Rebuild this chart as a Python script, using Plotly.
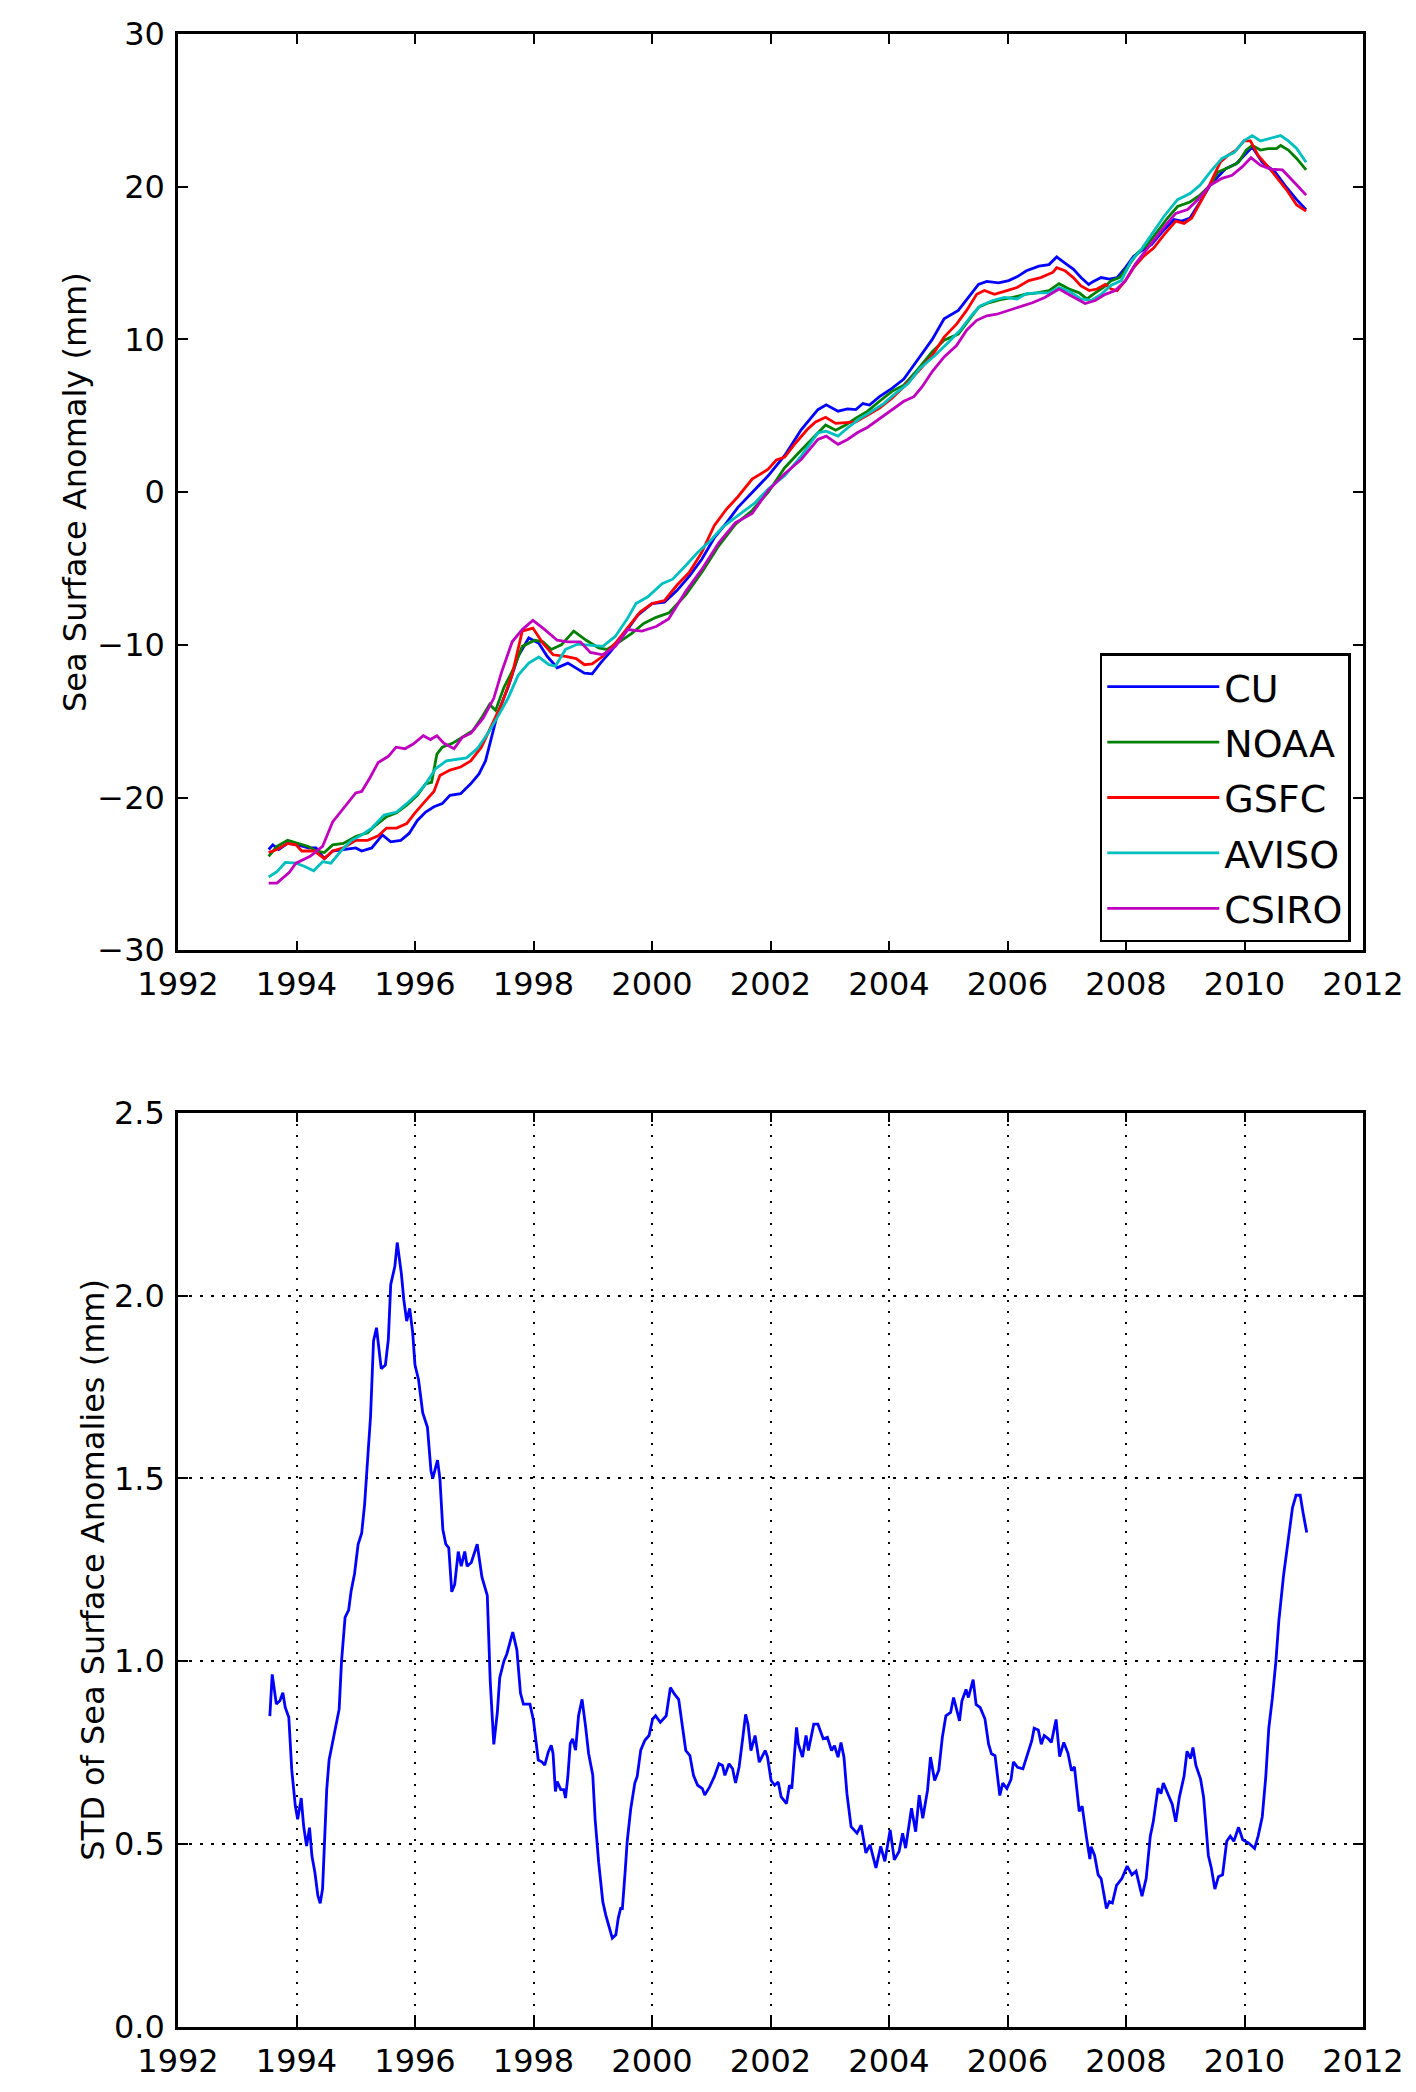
import plotly.graph_objects as go

# ---------------- data ----------------
cu_year = [1993.53, 1993.60, 1993.70, 1993.85, 1994.02, 1994.20, 1994.33, 1994.47, 1994.61, 1994.79,
           1995.00, 1995.10, 1995.27, 1995.45, 1995.59, 1995.76, 1995.90, 1996.04, 1996.18, 1996.32,
           1996.46, 1996.59, 1996.77, 1996.94, 1997.08, 1997.19, 1997.29, 1997.39, 1997.57, 1997.74,
           1997.92, 1998.09, 1998.23, 1998.40, 1998.58, 1998.72, 1998.86, 1998.99, 1999.13, 1999.31,
           1999.52, 1999.76, 2000.00, 2000.21, 2000.42, 2000.63, 2000.84, 2001.05, 2001.26, 2001.45,
           2001.69, 2001.96, 2002.24, 2002.52, 2002.80, 2002.94, 2003.14, 2003.30, 2003.44, 2003.56,
           2003.67, 2003.84, 2004.05, 2004.25, 2004.49, 2004.73, 2004.93, 2005.17, 2005.34, 2005.51,
           2005.65, 2005.85, 2006.02, 2006.16, 2006.32, 2006.53, 2006.70, 2006.83, 2006.97, 2007.11,
           2007.24, 2007.37, 2007.45, 2007.58, 2007.72, 2007.85, 2007.99, 2008.13, 2008.26, 2008.43,
           2008.60, 2008.81, 2008.94, 2009.08, 2009.25, 2009.42, 2009.55, 2009.69, 2009.86, 2009.99,
           2010.13, 2010.30, 2010.51, 2010.71, 2010.88, 2011.04]
cu_ssa = [-23.4, -23.1, -23.4, -23.0, -23.1, -23.3, -23.3, -24.0, -23.5, -23.4,
          -23.3, -23.5, -23.3, -22.45, -22.9, -22.8, -22.35, -21.5, -20.95, -20.6,
          -20.4, -19.85, -19.75, -19.1, -18.45, -17.6, -16.05, -14.55, -12.8, -10.75,
          -9.55, -9.9, -10.75, -11.5, -11.2, -11.5, -11.85, -11.9, -11.2, -10.4,
          -9.35, -8.05, -7.3, -7.2, -6.45, -5.5, -4.4, -3.0, -2.0, -1.0,
          0.0, 1.07, 2.4, 4.1, 5.4, 5.72, 5.3, 5.45, 5.4, 5.8,
          5.7, 6.25, 6.8, 7.4, 8.7, 10.0, 11.35, 11.9, 12.75, 13.6,
          13.8, 13.7, 13.85, 14.1, 14.5, 14.8, 14.9, 15.4, 15.0, 14.6,
          14.05, 13.6, 13.8, 14.05, 13.95, 14.05, 14.7, 15.45, 15.8, 16.2,
          17.0, 17.85, 17.75, 17.95, 19.0, 20.1, 20.65, 21.2, 21.5, 22.05,
          22.6, 21.6, 21.0, 19.95, 19.15, 18.5]

noaa_year = [1993.53, 1993.67, 1993.85, 1994.02, 1994.20, 1994.33, 1994.47, 1994.61, 1994.79, 1995.00,
             1995.20, 1995.34, 1995.52, 1995.69, 1995.86, 1996.04, 1996.18, 1996.28, 1996.37, 1996.46,
             1996.63, 1996.80, 1996.98, 1997.12, 1997.26, 1997.36, 1997.50, 1997.67, 1997.81, 1998.02,
             1998.16, 1998.30, 1998.47, 1998.68, 1998.89, 1999.10, 1999.24, 1999.45, 1999.66, 1999.86,
             2000.07, 2000.29, 2000.57, 2000.85, 2001.13, 2001.41, 2001.69, 2001.96, 2002.24, 2002.48,
             2002.69, 2002.93, 2003.10, 2003.27, 2003.44, 2003.64, 2003.84, 2004.05, 2004.25, 2004.49,
             2004.73, 2004.93, 2005.17, 2005.34, 2005.51, 2005.68, 2005.88, 2006.09, 2006.29, 2006.49,
             2006.70, 2006.87, 2007.04, 2007.21, 2007.34, 2007.48, 2007.62, 2007.75, 2007.89, 2008.02,
             2008.19, 2008.36, 2008.53, 2008.70, 2008.87, 2009.08, 2009.25, 2009.42, 2009.55, 2009.76,
             2009.90, 2010.03, 2010.13, 2010.27, 2010.40, 2010.54, 2010.61, 2010.74, 2010.88, 2011.04]
noaa_ssa = [-23.85, -23.2, -22.8, -23.0, -23.2, -23.5, -23.6, -23.1, -23.0, -22.55,
            -22.3, -21.8, -21.25, -21.0, -20.5, -19.85, -19.1, -19.0, -17.15, -16.7,
            -16.45, -16.05, -15.6, -14.8, -13.9, -14.3, -12.8, -11.5, -10.1, -9.7,
            -9.8, -10.3, -10.0, -9.1, -9.7, -10.2, -10.3, -9.8, -9.25, -8.6,
            -8.2, -7.9, -6.72, -5.2, -3.5, -2.1, -1.2, -0.01, 1.6, 2.6,
            3.45, 4.4, 4.05, 4.4, 4.85, 5.3, 5.95, 6.6, 7.0, 8.05,
            9.2, 9.95, 10.35, 11.25, 12.1, 12.4, 12.6, 12.75, 12.95, 13.05,
            13.2, 13.65, 13.3, 13.05, 12.65, 13.05, 13.4, 13.85, 14.05, 14.7,
            15.65, 16.2, 17.1, 17.95, 18.7, 19.0, 19.45, 20.1, 20.95, 21.3,
            21.6, 22.4, 22.7, 22.4, 22.5, 22.5, 22.7, 22.4, 21.85, 21.1]

gsfc_year = [1993.53, 1993.67, 1993.85, 1993.99, 1994.09, 1994.30, 1994.47, 1994.61, 1994.79, 1995.00,
             1995.20, 1995.38, 1995.52, 1995.69, 1995.86, 1996.00, 1996.18, 1996.32, 1996.42, 1996.59,
             1996.77, 1996.94, 1997.12, 1997.29, 1997.46, 1997.64, 1997.81, 1997.99, 1998.16, 1998.33,
             1998.54, 1998.72, 1998.86, 1998.99, 1999.17, 1999.38, 1999.59, 1999.80, 2000.00, 2000.21,
             2000.42, 2000.63, 2000.84, 2001.05, 2001.26, 2001.45, 2001.69, 2001.96, 2002.10, 2002.24,
             2002.42, 2002.62, 2002.76, 2002.93, 2003.10, 2003.27, 2003.44, 2003.64, 2003.84, 2004.05,
             2004.25, 2004.49, 2004.73, 2004.93, 2005.14, 2005.31, 2005.48, 2005.61, 2005.78, 2005.99,
             2006.16, 2006.36, 2006.56, 2006.77, 2006.83, 2006.97, 2007.11, 2007.24, 2007.38, 2007.51,
             2007.65, 2007.75, 2007.85, 2007.99, 2008.13, 2008.30, 2008.47, 2008.64, 2008.84, 2008.98,
             2009.11, 2009.28, 2009.42, 2009.59, 2009.72, 2009.86, 2009.99, 2010.10, 2010.23, 2010.40,
             2010.57, 2010.71, 2010.88, 2011.04]
gsfc_ssa = [-23.6, -23.4, -23.0, -23.1, -23.5, -23.5, -24.0, -23.5, -23.3, -22.8,
            -22.8, -22.5, -22.0, -22.0, -21.7, -21.0, -20.2, -19.6, -18.55, -18.2,
            -18.0, -17.6, -16.7, -15.3, -13.9, -11.95, -9.1, -8.9, -9.9, -10.65,
            -10.75, -10.9, -11.3, -11.25, -10.75, -9.9, -8.9, -7.85, -7.3, -7.1,
            -6.1, -5.25, -3.95, -2.2, -1.1, -0.3, 0.85, 1.5, 2.1, 2.3,
            3.2, 4.1, 4.6, 4.9, 4.5, 4.55, 4.6, 5.05, 5.5, 6.15,
            6.9, 7.9, 8.95, 10.15, 11.0, 11.9, 12.95, 13.2, 12.95, 13.2,
            13.4, 13.85, 14.05, 14.4, 14.7, 14.5, 14.05, 13.5, 13.2, 13.3,
            13.6, 13.3, 13.2, 13.85, 14.7, 15.45, 16.0, 16.85, 17.75, 17.6,
            17.95, 19.15, 20.2, 21.6, 22.05, 22.4, 23.0, 23.0, 22.05, 21.3,
            20.5, 19.8, 18.8, 18.4]

aviso_year = [1993.53, 1993.67, 1993.81, 1993.99, 1994.13, 1994.29, 1994.44, 1994.58, 1994.75, 1994.93,
              1995.10, 1995.27, 1995.48, 1995.69, 1995.86, 1996.04, 1996.18, 1996.35, 1996.53, 1996.70,
              1996.87, 1997.05, 1997.22, 1997.39, 1997.57, 1997.74, 1997.92, 1998.09, 1998.26, 1998.37,
              1998.54, 1998.75, 1998.96, 1999.17, 1999.38, 1999.59, 1999.73, 1999.93, 2000.17, 2000.35,
              2000.57, 2000.77, 2000.98, 2001.19, 2001.46, 2001.74, 2001.96, 2002.24, 2002.52, 2002.80,
              2002.94, 2003.14, 2003.30, 2003.50, 2003.71, 2003.91, 2004.12, 2004.32, 2004.52, 2004.76,
              2005.00, 2005.20, 2005.41, 2005.54, 2005.75, 2005.95, 2006.16, 2006.32, 2006.53, 2006.70,
              2006.87, 2007.04, 2007.24, 2007.41, 2007.58, 2007.75, 2007.92, 2008.09, 2008.26, 2008.47,
              2008.64, 2008.87, 2009.08, 2009.25, 2009.42, 2009.62, 2009.83, 2009.99, 2010.13, 2010.27,
              2010.44, 2010.61, 2010.74, 2010.88, 2011.04]
aviso_ssa = [-25.2, -24.85, -24.25, -24.3, -24.5, -24.8, -24.2, -24.3, -23.5, -22.8,
             -22.45, -22.0, -21.15, -20.95, -20.4, -19.75, -19.1, -18.1, -17.6, -17.5,
             -17.4, -16.8, -15.85, -14.75, -13.5, -12.0, -11.2, -10.8, -11.3, -11.4,
             -10.3, -9.95, -10.05, -10.1, -9.45, -8.25, -7.3, -6.85, -6.0, -5.7,
             -4.8, -3.95, -3.2, -2.3, -1.5, -0.7, 0.21, 1.07, 2.37, 3.88,
             3.99, 3.67, 4.2, 4.8, 5.3, 5.8, 6.5, 7.1, 8.1, 8.9,
             9.8, 10.6, 11.65, 12.2, 12.55, 12.75, 12.65, 13.0, 13.05, 13.05,
             13.4, 13.15, 12.65, 12.55, 12.95, 13.55, 13.85, 15.15, 15.9, 17.1,
             18.05, 19.15, 19.55, 20.1, 20.95, 21.85, 22.25, 23.0, 23.35, 23.0,
             23.2, 23.35, 23.0, 22.5, 21.6]

csiro_year = [1993.53, 1993.67, 1993.88, 1993.99, 1994.23, 1994.44, 1994.61, 1994.82, 1995.00, 1995.10,
              1995.24, 1995.38, 1995.55, 1995.68, 1995.83, 1995.97, 1996.14, 1996.26, 1996.37, 1996.49,
              1996.66, 1996.80, 1996.94, 1997.15, 1997.33, 1997.46, 1997.64, 1997.81, 1997.99, 1998.19,
              1998.40, 1998.58, 1998.79, 1998.96, 1999.17, 1999.38, 1999.59, 1999.83, 2000.07, 2000.28,
              2000.57, 2000.85, 2001.13, 2001.41, 2001.69, 2001.96, 2002.24, 2002.52, 2002.80, 2002.94,
              2003.14, 2003.30, 2003.47, 2003.64, 2003.84, 2004.05, 2004.25, 2004.42, 2004.56, 2004.73,
              2004.93, 2005.14, 2005.31, 2005.48, 2005.65, 2005.82, 2006.02, 2006.22, 2006.42, 2006.63,
              2006.87, 2007.08, 2007.31, 2007.48, 2007.65, 2007.82, 2007.99, 2008.16, 2008.33, 2008.50,
              2008.67, 2008.84, 2009.04, 2009.21, 2009.42, 2009.62, 2009.79, 2009.96, 2010.11, 2010.27,
              2010.44, 2010.64, 2010.78, 2010.91, 2011.04]
csiro_ssa = [-25.6, -25.6, -24.9, -24.3, -23.85, -23.2, -21.6, -20.6, -19.7, -19.6,
             -18.7, -17.7, -17.3, -16.7, -16.8, -16.5, -15.95, -16.2, -15.95, -16.45,
             -16.8, -16.05, -15.8, -14.8, -13.5, -11.8, -9.8, -9.0, -8.4, -9.0,
             -9.7, -9.8, -9.8, -10.5, -10.65, -10.1, -9.0, -9.1, -8.8, -8.3,
             -6.5, -5.0, -3.3, -2.0, -1.4, 0.1, 1.2, 2.15, 3.45, 3.67,
             3.13, 3.45, 3.9, 4.25, 4.8, 5.4, 5.95, 6.25, 6.9, 7.9,
             8.85, 9.6, 10.6, 11.25, 11.55, 11.65, 11.9, 12.2, 12.4, 12.75,
             13.3, 12.85, 12.35, 12.55, 12.95, 13.2, 13.85, 14.95, 15.8, 16.65,
             17.5, 18.25, 18.5, 19.15, 20.1, 20.55, 20.75, 21.3, 21.9, 21.4,
             21.15, 21.1, 20.55, 20.0, 19.45]

std_year = [1993.55, 1993.59, 1993.66, 1993.72, 1993.77, 1993.81, 1993.87, 1993.92, 1993.98, 1994.02,
            1994.08, 1994.12, 1994.17, 1994.22, 1994.26, 1994.31, 1994.36, 1994.40, 1994.44, 1994.48,
            1994.51, 1994.55, 1994.62, 1994.68, 1994.72, 1994.76, 1994.82, 1994.88, 1994.92, 1994.98,
            1995.04, 1995.10, 1995.15, 1995.21, 1995.25, 1995.30, 1995.35, 1995.43, 1995.50, 1995.55,
            1995.59, 1995.66, 1995.70, 1995.77, 1995.81, 1995.86, 1995.91, 1995.96, 1996.00, 1996.06,
            1996.13, 1996.21, 1996.27, 1996.30, 1996.38, 1996.42, 1996.47, 1996.52, 1996.57, 1996.62,
            1996.67, 1996.73, 1996.78, 1996.84, 1996.88, 1996.95, 1997.05, 1997.13, 1997.22, 1997.27,
            1997.33, 1997.39, 1997.43, 1997.50, 1997.55, 1997.65, 1997.72, 1997.78, 1997.83, 1997.94,
            1998.00, 1998.04, 1998.08, 1998.14, 1998.19, 1998.25, 1998.30, 1998.33, 1998.37, 1998.40,
            1998.46, 1998.51, 1998.54, 1998.58, 1998.62, 1998.66, 1998.71, 1998.76, 1998.82, 1998.88,
            1998.93, 1999.00, 1999.04, 1999.10, 1999.17, 1999.22, 1999.28, 1999.33, 1999.39, 1999.43,
            1999.47, 1999.50, 1999.55, 1999.58, 1999.64, 1999.71, 1999.75, 1999.81, 1999.88, 1999.95,
            2000.01, 2000.06, 2000.14, 2000.24, 2000.31, 2000.38, 2000.45, 2000.52, 2000.57, 2000.64,
            2000.70, 2000.77, 2000.85, 2000.89, 2000.97, 2001.05, 2001.13, 2001.19, 2001.23, 2001.30,
            2001.36, 2001.41, 2001.47, 2001.53, 2001.58, 2001.62, 2001.67, 2001.74, 2001.81, 2001.91,
            2001.95, 2002.01, 2002.07, 2002.13, 2002.18, 2002.27, 2002.32, 2002.36, 2002.41, 2002.44,
            2002.47, 2002.54, 2002.60, 2002.64, 2002.73, 2002.80, 2002.89, 2002.96, 2003.03, 2003.08,
            2003.14, 2003.19, 2003.24, 2003.29, 2003.36, 2003.46, 2003.53, 2003.61, 2003.68, 2003.78,
            2003.86, 2003.93, 2004.02, 2004.09, 2004.17, 2004.23, 2004.28, 2004.38, 2004.45, 2004.51,
            2004.57, 2004.65, 2004.70, 2004.77, 2004.84, 2004.90, 2004.96, 2005.04, 2005.09, 2005.14,
            2005.19, 2005.23, 2005.30, 2005.34, 2005.42, 2005.47, 2005.54, 2005.62, 2005.68, 2005.73,
            2005.79, 2005.87, 2005.92, 2005.99, 2006.06, 2006.10, 2006.17, 2006.26, 2006.33, 2006.41,
            2006.45, 2006.52, 2006.57, 2006.62, 2006.69, 2006.74, 2006.82, 2006.88, 2006.95, 2007.02,
            2007.08, 2007.13, 2007.21, 2007.26, 2007.33, 2007.39, 2007.41, 2007.47, 2007.53, 2007.58,
            2007.67, 2007.72, 2007.77, 2007.84, 2007.93, 2008.02, 2008.10, 2008.17, 2008.27, 2008.34,
            2008.41, 2008.46, 2008.54, 2008.59, 2008.63, 2008.69, 2008.73, 2008.78, 2008.84, 2008.90,
            2008.98, 2009.03, 2009.09, 2009.13, 2009.18, 2009.26, 2009.31, 2009.39, 2009.44, 2009.50,
            2009.56, 2009.63, 2009.70, 2009.76, 2009.82, 2009.90, 2009.97, 2010.07, 2010.17, 2010.23,
            2010.30, 2010.36, 2010.41, 2010.47, 2010.53, 2010.58, 2010.66, 2010.70, 2010.74, 2010.81,
            2010.87, 2010.94, 2010.99, 2011.05]
std_mm = [0.85, 0.964, 0.883, 0.892, 0.914, 0.874, 0.847, 0.703, 0.604, 0.568,
          0.626, 0.55, 0.495, 0.545, 0.468, 0.423, 0.36, 0.338, 0.378, 0.541,
          0.649, 0.73, 0.784, 0.829, 0.869, 1.0, 1.12, 1.14, 1.19, 1.24,
          1.32, 1.35, 1.43, 1.575, 1.67, 1.876, 1.912, 1.80, 1.81, 1.88,
          2.03, 2.08, 2.145, 2.06, 1.99, 1.93, 1.965, 1.90, 1.81, 1.77,
          1.68, 1.64, 1.52, 1.50, 1.55, 1.50, 1.36, 1.32, 1.31, 1.19,
          1.21, 1.30, 1.26, 1.30, 1.26, 1.27, 1.32, 1.23, 1.18, 0.944,
          0.773, 0.861, 0.955, 1.0, 1.02, 1.08, 1.03, 0.913, 0.883, 0.883,
          0.838, 0.784, 0.73, 0.725, 0.716, 0.752, 0.77, 0.748, 0.644, 0.671,
          0.649, 0.649, 0.626, 0.685, 0.775, 0.788, 0.757, 0.851, 0.896, 0.82,
          0.748, 0.689, 0.568, 0.45, 0.342, 0.306, 0.27, 0.243, 0.252, 0.297,
          0.324, 0.324, 0.432, 0.505, 0.595, 0.667, 0.685, 0.757, 0.784, 0.797,
          0.842, 0.851, 0.833, 0.851, 0.928, 0.91, 0.896, 0.81, 0.756, 0.742,
          0.688, 0.661, 0.652, 0.634, 0.656, 0.684, 0.72, 0.715, 0.688, 0.72,
          0.706, 0.667, 0.711, 0.788, 0.855, 0.828, 0.756, 0.797, 0.724, 0.756,
          0.738, 0.674, 0.661, 0.67, 0.629, 0.611, 0.661, 0.652, 0.747, 0.819,
          0.774, 0.738, 0.797, 0.756, 0.828, 0.828, 0.788, 0.792, 0.756, 0.769,
          0.738, 0.778, 0.738, 0.638, 0.548, 0.53, 0.552, 0.476, 0.498, 0.435,
          0.494, 0.453, 0.539, 0.457, 0.48, 0.53, 0.489, 0.598, 0.534, 0.634,
          0.571, 0.647, 0.738, 0.674, 0.702, 0.792, 0.851, 0.86, 0.901, 0.869,
          0.837, 0.891, 0.923, 0.901, 0.95, 0.882, 0.873, 0.842, 0.774, 0.747,
          0.742, 0.633, 0.667, 0.652, 0.677, 0.725, 0.71, 0.706, 0.739, 0.783,
          0.817, 0.812, 0.773, 0.797, 0.788, 0.778, 0.841, 0.739, 0.778, 0.749,
          0.701, 0.711, 0.59, 0.604, 0.522, 0.459, 0.493, 0.469, 0.416, 0.406,
          0.324, 0.343, 0.339, 0.387, 0.406, 0.44, 0.416, 0.426, 0.358, 0.406,
          0.522, 0.561, 0.653, 0.638, 0.667, 0.643, 0.628, 0.609, 0.561, 0.628,
          0.686, 0.754, 0.734, 0.764, 0.715, 0.677, 0.628, 0.469, 0.435, 0.377,
          0.411, 0.416, 0.508, 0.522, 0.508, 0.546, 0.512, 0.503, 0.488, 0.522,
          0.575, 0.686, 0.817, 0.899, 1.0, 1.111, 1.236, 1.285, 1.343, 1.42,
          1.454, 1.454, 1.405, 1.352]

series_names = ["CU", "NOAA", "GSFC", "AVISO", "CSIRO"]
series_colors = ["#0000ff", "#008000", "#ff0000", "#00bfbf", "#bf00bf"]
series_years = [cu_year, noaa_year, gsfc_year, aviso_year, csiro_year]
series_values = [cu_ssa, noaa_ssa, gsfc_ssa, aviso_ssa, csiro_ssa]

x_ticks = list(range(1992, 2013, 2))
top_y_ticks = [-30, -20, -10, 0, 10, 20, 30]
bottom_y_ticks = [0.0, 0.5, 1.0, 1.5, 2.0, 2.5]

# ---------------- figure ----------------
FONT = "DejaVu Sans"
LW = 2.8
fig = go.Figure()

for name, xs, ys, col in zip(series_names, series_years, series_values, series_colors):
    fig.add_trace(go.Scatter(x=xs, y=ys, name=name, mode="lines",
                             line=dict(color=col, width=LW),
                             legendgroup=name, xaxis="x", yaxis="y"))

fig.add_trace(go.Scatter(x=std_year, y=std_mm, mode="lines", showlegend=False,
                         line=dict(color="#0000ff", width=LW), xaxis="x2", yaxis="y2"))

common = dict(showline=True, linecolor="black", linewidth=2.5, mirror="ticks",
              ticks="inside", ticklen=10, tickwidth=1.5, tickcolor="black",
              tickfont=dict(family=FONT, size=32, color="black"),
              zeroline=False, ticklabelstandoff=4)

grid = dict(showgrid=True, gridcolor="black", gridwidth=1.6, griddash="2.5px,8.5px")

fig.update_layout(
    width=1416, height=2092,
    margin=dict(l=178, r=44, t=34, b=46),
    paper_bgcolor="white", plot_bgcolor="white",
    font=dict(family=FONT, color="black"),
    showlegend=True,
    legend=dict(x=0.9897, y=0.5444, xanchor="right", yanchor="bottom",
                bgcolor="white", bordercolor="black", borderwidth=2.5,
                font=dict(family=FONT, size=38, color="black"),
                itemwidth=112, tracegroupgap=3),
    xaxis=dict(domain=[0, 1], anchor="y", range=[1992, 2012],
               tickvals=x_ticks, ticktext=[str(v) for v in x_ticks],
               showgrid=False, **common),
    yaxis=dict(domain=[0.54026, 1.0], anchor="x", range=[-30, 30],
               tickvals=top_y_ticks, showgrid=False,
               title=dict(text="Sea Surface Anomaly (mm)",
                          font=dict(family=FONT, size=32, color="black"), standoff=2),
               **common),
    xaxis2=dict(domain=[0, 1], anchor="y2", range=[1992, 2012],
                tickvals=x_ticks, ticktext=[str(v) for v in x_ticks],
                **grid, **common),
    yaxis2=dict(domain=[0, 0.45875], anchor="x2", range=[0, 2.5],
                tickvals=bottom_y_ticks, tickformat=".1f",
                title=dict(text="STD of Sea Surface Anomalies (mm)",
                           font=dict(family=FONT, size=32, color="black"), standoff=0),
                **grid, **common),
)

fig.write_html("out.html")
